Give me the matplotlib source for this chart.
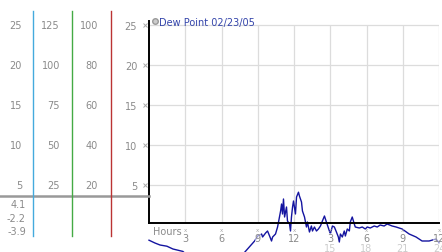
import matplotlib.pyplot as plt
from matplotlib.lines import Line2D
from matplotlib.transforms import blended_transform_factory

# dew point over the day (hours since midnight, deg C)
hours = [0.0, 0.49, 0.91, 1.48, 1.98, 2.80, 3.38, 4.2, 5.4, 6.5, 7.5, 7.92,
         8.33, 8.74, 8.99, 9.32, 9.40, 9.65, 9.81, 9.98, 10.14, 10.23, 10.47,
         10.64, 10.72, 10.89, 10.97, 11.05, 11.13, 11.22, 11.38, 11.46, 11.63,
         11.71, 11.79, 11.88, 11.96, 12.12, 12.21, 12.37, 12.45, 12.62, 12.70,
         12.87, 13.03, 13.11, 13.28, 13.44, 13.53, 13.69, 13.86, 14.02, 14.19,
         14.35, 14.52, 14.68, 14.93, 15.01, 15.18, 15.34, 15.51, 15.67, 15.75,
         15.84, 16.00, 16.16, 16.25, 16.41, 16.58, 16.66, 16.82, 16.99, 17.07,
         17.40, 17.65, 17.90, 18.06, 18.31, 18.64, 18.89, 19.13, 19.46, 19.71,
         20.12, 20.45, 20.95, 21.53, 22.10, 22.60, 23.18, 23.75, 24.0]
dew = [-1.9, -2.25, -2.5, -2.65, -3.0, -3.3, -4.1, -4.4, -4.6, -4.5, -4.2, -3.4,
       -2.7, -2.0, -1.375, -1.125, -1.5, -1.0, -0.75, -1.375, -2.0, -1.5, -1.125,
       -0.25, 0.375, 1.75, 2.625, 1.375, 3.25, 1.0, 2.25, 0.5, 0.125,
       -0.75, 1.0, 2.25, 3.0, 1.375, 3.5, 4.1, 3.625, 2.875, 1.75,
       1.0, -0.25, 0.375, -0.875, -0.125, -0.75, -0.25, -0.75, -0.5, -0.125,
       0.5, 1.125, 0.375, -0.75, -1.125, -0.125, -0.25, -0.875, -1.5, -2.125,
       -1.125, -1.5, -0.75, -1.375, -0.5, -0.75, 0.375, 1.0, 0.125, -0.25,
       -0.375, -0.25, -0.5, -0.25, -0.375, -0.125, -0.25, 0.0, -0.125, 0.125,
       -0.125, -0.25, -0.5, -1.125, -1.5, -2.0, -2.0, -1.75, -2.2]

scale_c = [25, 20, 15, 10, 5]
scale_a = [125, 100, 75, 50, 25]
scale_b = [100, 80, 60, 40, 20]
stats = ['4.1', '-2.2', '-3.9']
stats_y = [205, 219, 232]
hour_ticks = [3, 6, 9, 12, 15, 18, 21, 24]
hour_labels = ['3', '6', '9', '12', '3', '6', '9', '12']
hour_labels_24 = ['15', '18', '21', '24']
series_name = 'Dew Point 02/23/05'

W, H = 442, 253
fig = plt.figure(figsize=(W / 100, H / 100), dpi=100)
fig.patch.set_facecolor('white')

ax = fig.add_axes([149 / W, 1 - 224 / H, 290 / W, 202 / H])
ax.set_xlim(0, 24)
ax.set_ylim(0.25, 25.5)
for s in ['top', 'right']:
    ax.spines[s].set_visible(False)
for s in ['left', 'bottom']:
    ax.spines[s].set_color('black')
    ax.spines[s].set_linewidth(1.4)

grid_c = '#dcdcdc'
ax.hlines(scale_c, 0, 24, color=grid_c, lw=0.9, zorder=0)
ax.vlines(hour_ticks, 0.25, 25, color=grid_c, lw=0.9, zorder=0)

txt_c = '#8a8a8a'
ax.set_xticks([])
ax.set_yticks(scale_c)
ax.set_yticklabels([str(v) for v in scale_c], fontsize=7, color=txt_c)
ax.tick_params(axis='y', length=0, pad=8.5)
ax.plot([-0.3] * len(scale_c), scale_c, 'x', ms=2.5, mew=0.7, color='#aaaaaa', clip_on=False)

ax.plot(hours, dew, color='#1414a0', lw=1.0, clip_on=False, zorder=2)

# bottom hour labels
tb = blended_transform_factory(ax.transData, fig.transFigure)
box = dict(facecolor='white', alpha=0.55, edgecolor='none', pad=0)
ax.text(0.3, 1 - 232 / H, 'Hours', transform=tb, fontsize=7, color=txt_c,
        va='center', ha='left', bbox=box, zorder=3)
for h, lab in zip(hour_ticks, hour_labels):
    ax.text(h, 1 - 231 / H, 'x', transform=tb, fontsize=4, color='#aaaaaa',
            ha='center', va='center', zorder=3)
    ax.text(h, 1 - 239 / H, lab, transform=tb, fontsize=7, color=txt_c,
            ha='center', va='center', bbox=box, zorder=3)
for h, lab in zip(hour_ticks[4:], hour_labels_24):
    ax.text(h, 1 - 249 / H, lab, transform=tb, fontsize=7, color='#cccccc',
            ha='center', va='center', zorder=3)

# legend
handle = Line2D([], [], marker='o', ls='none', ms=4, mfc='#cccccc', mec='#999999')
ax.legend([handle], [series_name], loc='upper left', bbox_to_anchor=(-0.004, 1.04),
          frameon=False, fontsize=7, handlelength=0.6, handletextpad=0.15,
          borderaxespad=0, labelcolor='#3344aa')

# left scale columns
tl = blended_transform_factory(fig.transFigure, ax.transData)
for vals, xr in [(scale_c, 22), (scale_a, 60), (scale_b, 98)]:
    for v, lab in zip(scale_c, vals):
        fig.text(xr / W, v, str(lab), transform=tl, fontsize=7, color=txt_c,
                 ha='right', va='center')
for lab, yp in zip(stats, stats_y):
    fig.text(26 / W, 1 - yp / H, lab, fontsize=7, color=txt_c, ha='right', va='center')

fig.add_artist(Line2D([0, 149 / W], [3.625, 3.625], transform=tl, color='#999999', lw=1.8))
for xp, col in [(33, '#44aadd'), (72, '#44aa44'), (111, '#bb3333')]:
    fig.add_artist(Line2D([xp / W, xp / W], [1 - 12 / H, 1 - 237 / H], color=col, lw=1.0))

fig.savefig('out.png', dpi=100)
